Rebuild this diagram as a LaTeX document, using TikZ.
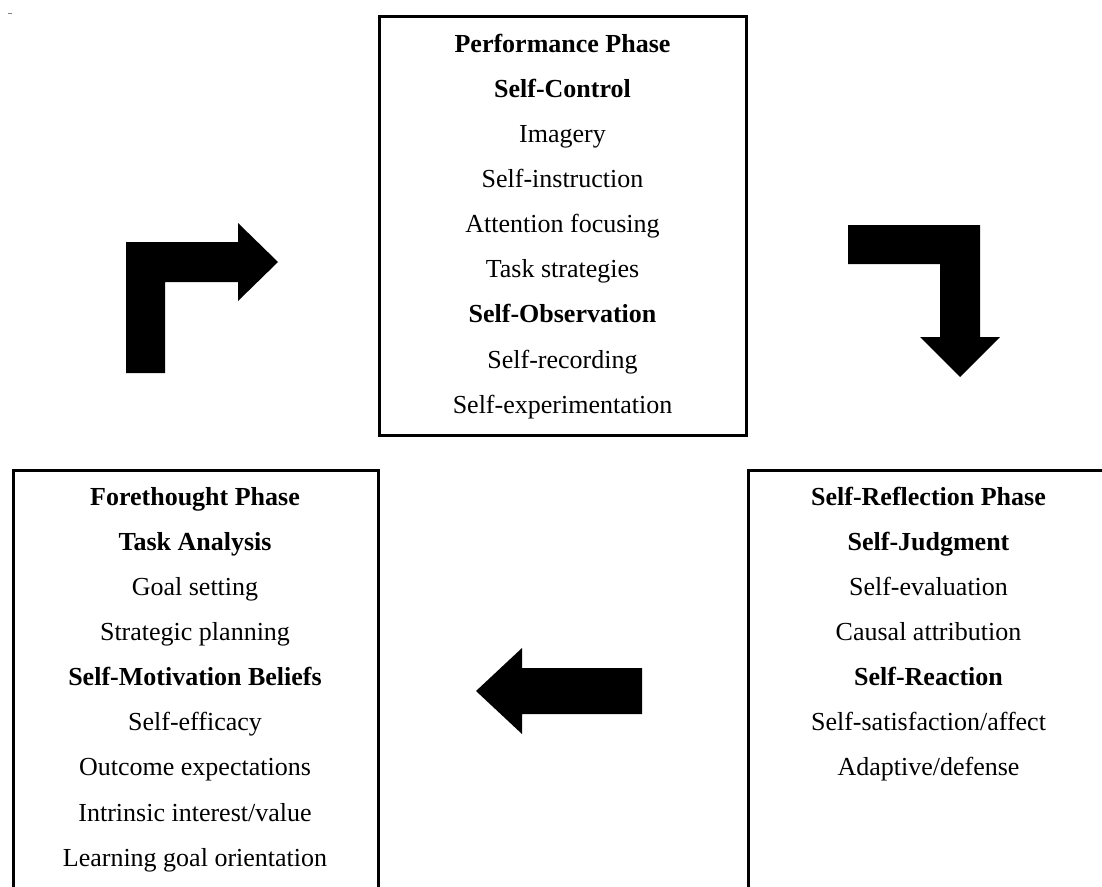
\documentclass[tikz,border=0pt]{standalone}
\usepackage{fontspec}
\setmainfont{Liberation Serif}
\begin{document}
\begin{tikzpicture}[x=1pt,y=-1pt,
  phasebox/.style={draw=black, line width=3pt},
  entry/.style={anchor=base, inner sep=0pt, font=\fontsize{26}{30}\selectfont},
  blockarrow/.style={fill=black, draw=none}]
  \useasboundingbox (0,0) rectangle (1102,886);
  \clip (0,0) rectangle (1102,886);

  % stray mark in the corner
  \draw[gray, line width=1.2pt] (8,13.5) -- (12,13.5);

  % phase boxes
  \draw[phasebox] (379,16) rectangle (746,435);
  \draw[phasebox] (13,470) rectangle (378,920);
  \draw[phasebox] (748,470) rectangle (1112,920);

  % performance phase
  \foreach \t [count=\i from 0] in {%
    {\textbf{Performance Phase}}, {\textbf{Self-Control}}, Imagery,
    Self-instruction, Attention focusing, Task strategies,
    {\textbf{Self-Observation}}, Self-recording, Self-experimentation}
    \node[entry] (perf-\i) at (562.5, 52+45.15*\i) {\t};

  % forethought phase
  \foreach \t [count=\i from 0] in {%
    {\textbf{Forethought Phase}}, {\textbf{Task Analysis}}, Goal setting,
    Strategic planning, {\textbf{Self-Motivation Beliefs}}, Self-efficacy,
    Outcome expectations, Intrinsic interest/value, Learning goal orientation}
    \node[entry] (fore-\i) at (195, 505+45.15*\i) {\t};

  % self-reflection phase
  \foreach \t [count=\i from 0] in {%
    {\textbf{Self-Reflection Phase}}, {\textbf{Self-Judgment}}, Self-evaluation,
    Causal attribution, {\textbf{Self-Reaction}}, Self-satisfaction/affect,
    Adaptive/defense}
    \node[entry] (refl-\i) at (928.5, 505+45.15*\i) {\t};

  % bent arrow: forethought -> performance
  \fill[blockarrow] (126,373) -- (126,242) -- (238,242) -- (238,223)
    -- (278,262) -- (238,301) -- (238,282) -- (165,282) -- (165,373) -- cycle;

  % bent arrow: performance -> self-reflection
  \fill[blockarrow] (848,225) -- (980,225) -- (980,337) -- (1000,337)
    -- (960,377) -- (920,337) -- (940,337) -- (940,264) -- (848,264) -- cycle;

  % straight arrow: self-reflection -> forethought
  \fill[blockarrow] (642,668) -- (522,668) -- (522,648) -- (476,691)
    -- (522,734) -- (522,714) -- (642,714) -- cycle;
\end{tikzpicture}
\end{document}
